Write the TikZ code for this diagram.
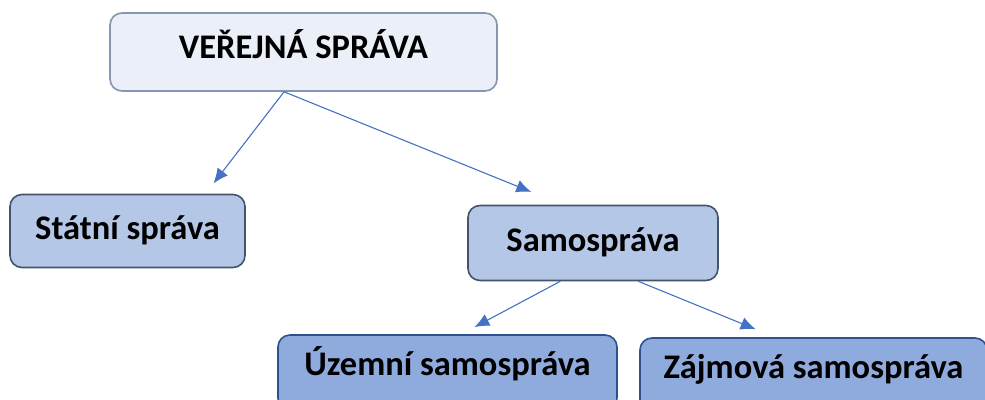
\documentclass[tikz,border=0pt]{standalone}
\usepackage{fontspec}
\setmainfont{Carlito}
\usetikzlibrary{positioning,arrows.meta,calc}
\definecolor{topfill}{HTML}{EAEFF8}
\definecolor{topline}{HTML}{8497B0}
\definecolor{midfill}{HTML}{B4C7E7}
\definecolor{midline}{HTML}{44546A}
\definecolor{lowfill}{HTML}{8FAADC}
\definecolor{lowline}{HTML}{2F528F}
\definecolor{linkblue}{HTML}{4472C4}
\tikzset{
    box/.style = {
        draw,
        shape=rectangle,
        rounded corners=12pt,
        line width=1.6pt,
        inner sep=0pt,
        text height=22pt,
        text depth=5pt,
        font=\fontsize{34.5}{40}\selectfont\bfseries
    },
    topbox/.style = {box, fill=topfill, draw=topline, text depth=9pt},
    midbox/.style = {box, fill=midfill, draw=midline},
    lowbox/.style = {box, fill=lowfill, draw=lowline, text depth=17pt},
    link/.style = {
        draw=linkblue,
        line width=1.1pt,
        -{Latex[length=15pt,width=13pt]}
    },
}

\begin{document}
\begin{tikzpicture}[x=1pt,y=-1pt]
        \useasboundingbox (0,0) rectangle (985,399);
        \clip (0,0) rectangle (985,399);

        \node[topbox, minimum width=387pt, minimum height=78pt] (verejna) at (303.5,52) {VEŘEJNÁ SPRÁVA};
        \node[midbox, minimum width=235pt, minimum height=73pt] (statni) at (127.5,231) {Státní správa};
        \node[midbox, minimum width=250pt, minimum height=75pt] (samo) at (593,243) {Samospráva};
        \node[lowbox, minimum width=339pt, minimum height=75pt] (uzemni) at (447.5,372.5) {Územní samospráva};
        \node[lowbox, minimum width=347pt, minimum height=75pt] (zajmova) at (813.5,375.5) {Zájmová samospráva};

        % start points on the lower edges
        \coordinate (vsplit) at ($(verejna.south west)!0.45!(verejna.south east)$);
        \coordinate (ssplitl) at ($(samo.south west)!0.37!(samo.south east)$);
        \coordinate (ssplitr) at ($(samo.south west)!0.68!(samo.south east)$);

        \path[link, shorten >=13pt] (vsplit) -- ($(statni.north west)!0.83!(statni.north east)$);
        \path[link, shorten >=34pt] (vsplit) -- ($(samo.north west)!0.38!(samo.north east)$);
        \path[link, shorten >=15pt] (ssplitl) -- ($(uzemni.north west)!0.54!(uzemni.north east)$);
        \path[link, shorten >=21pt] (ssplitr) -- ($(zajmova.north west)!0.39!(zajmova.north east)$);
\end{tikzpicture}
\end{document}
